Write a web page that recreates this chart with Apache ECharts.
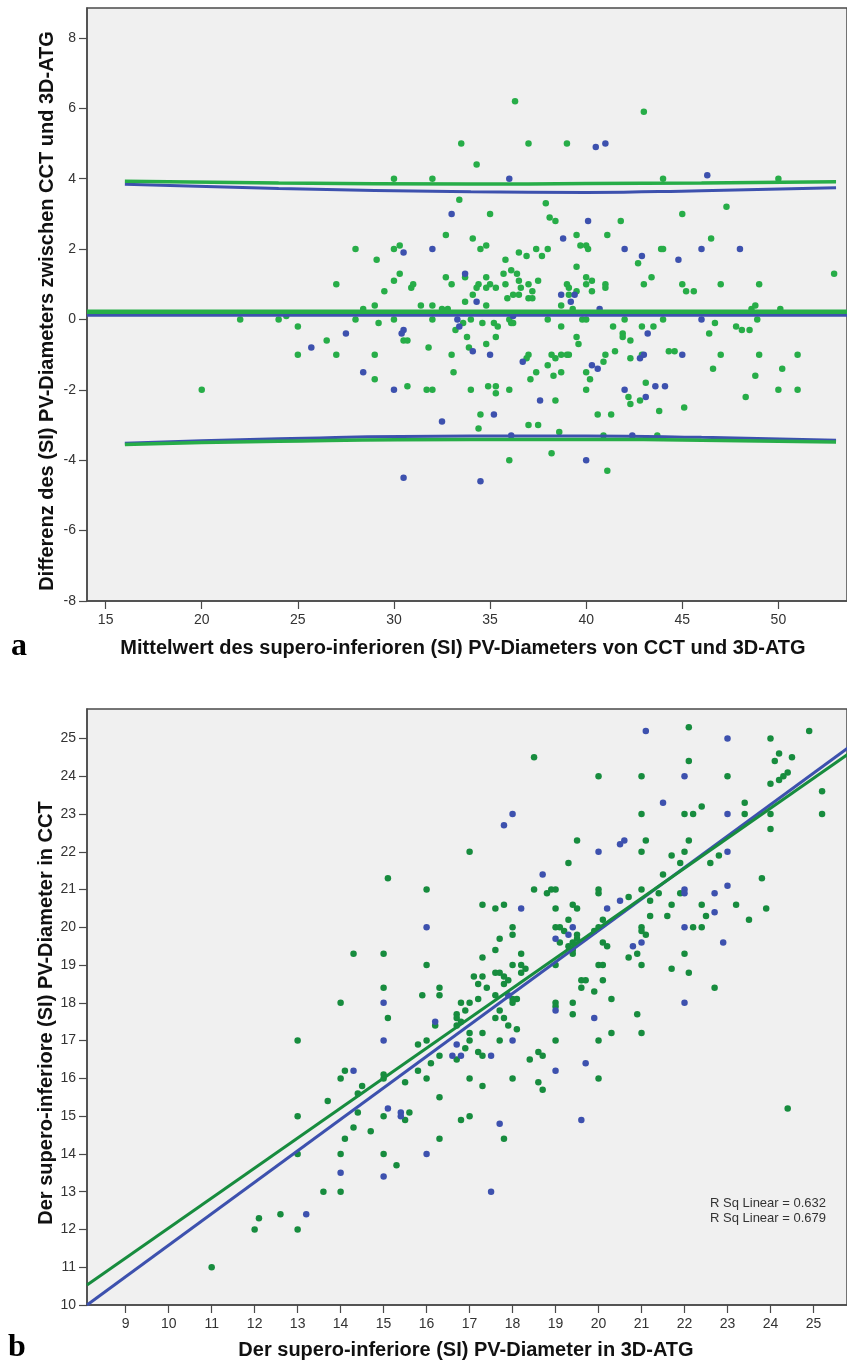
<!DOCTYPE html>
<html>
<head>
<meta charset="utf-8">
<script src="https://cdn.jsdelivr.net/npm/echarts@6/dist/echarts.min.js"></script>
<style>
html, body { margin: 0; padding: 0; background: #fff; }
#chart { width: 847px; height: 1362px; }
</style>
</head>
<body>
<div id="chart"></div>
<script>
// ---- panel a (Bland-Altman) ----
var aTicksX = [15, 20, 25, 30, 35, 40, 45, 50];
var aTicksY = [-8, -6, -4, -2, 0, 2, 4, 6, 8];

var aGreen = [
  [36.3,6.2],[33.5,5.0],[37.0,5.0],[39.0,5.0],[34.3,4.4],[30.0,4.0],[32.0,4.0],[33.4,3.4],[37.9,3.3],[35.0,3.0],
  [38.1,2.9],[38.4,2.8],[39.5,2.4],[32.7,2.4],[34.1,2.3],[28.0,2.0],[30.0,2.0],[30.3,2.1],[34.5,2.0],[34.8,2.1],
  [29.1,1.7],[35.8,1.7],[36.5,1.9],[36.9,1.8],[37.4,2.0],[38.0,2.0],[37.7,1.8],[39.5,1.5],[27.0,1.0],[29.5,0.8],
  [30.0,1.1],[30.3,1.3],[30.9,0.9],[31.0,1.0],[32.7,1.2],[33.0,1.0],[33.7,1.2],[34.1,0.7],[34.3,0.9],[34.4,1.0],
  [34.8,1.2],[34.8,0.9],[35.0,1.0],[35.3,0.9],[35.7,1.3],[35.8,1.0],[35.9,0.6],[36.1,1.4],[36.2,0.7],[36.5,0.7],
  [36.4,1.3],[36.5,1.1],[36.6,0.9],[37.0,1.0],[37.0,0.6],[37.2,0.6],[37.2,0.8],[37.5,1.1],[38.0,0.0],[38.7,0.4],
  [39.0,1.0],[39.1,0.9],[39.5,0.8],[24.0,0.0],[24.4,0.1],[25.0,-0.2],[28.0,0.0],[28.4,0.3],[29.0,0.4],[29.2,-0.1],
  [30.0,0.0],[31.4,0.4],[32.0,0.4],[32.0,0.0],[32.5,0.3],[32.8,0.3],[33.2,-0.3],[33.6,-0.1],[33.7,0.5],[34.0,0.0],
  [34.6,-0.1],[34.8,0.4],[35.2,-0.1],[35.4,-0.2],[36.0,0.0],[36.1,-0.1],[36.2,-0.1],[38.7,-0.2],[39.3,0.3],
  [43.0,5.9],[44.0,4.0],[50.0,4.0],[45.0,3.0],[47.3,3.2],[41.8,2.8],[39.7,2.1],[40.0,2.1],[40.1,2.0],[41.1,2.4],
  [42.7,1.6],[43.9,2.0],[44.0,2.0],[46.5,2.3],[40.0,1.2],[40.3,1.1],[40.0,1.0],[40.3,0.8],[41.0,1.0],[41.0,0.9],
  [39.1,0.7],[43.4,1.2],[43.0,1.0],[45.0,1.0],[45.2,0.8],[45.6,0.8],[47.0,1.0],[49.0,1.0],[52.9,1.3],[48.6,0.3],
  [48.8,0.4],[50.1,0.3],[48.9,0.0],[46.7,-0.1],[47.8,-0.2],[48.1,-0.3],[48.5,-0.3],[44.0,0.0],[42.9,-0.2],[43.5,-0.2],
  [42.0,0.0],[41.4,-0.2],[39.8,0.0],[40.0,0.0],
  [22.0,0.0],[25.0,-1.0],[20.0,-2.0],
  [26.5,-0.6],[27.0,-1.0],[29.0,-1.0],[29.0,-1.7],[30.5,-0.6],[30.7,-0.6],[30.7,-1.9],[31.7,-2.0],[32.0,-2.0],[31.8,-0.8],
  [33.0,-1.0],[33.1,-1.5],[33.8,-0.5],[33.9,-0.8],[34.0,-2.0],[34.4,-3.1],[34.5,-2.7],[34.8,-0.7],[34.9,-1.9],[35.3,-0.5],
  [35.3,-1.9],[35.3,-2.1],[36.0,-2.0],[36.0,-4.0],[36.9,-1.1],[37.0,-1.0],[37.1,-1.7],[37.4,-1.5],[37.0,-3.0],[37.5,-3.0],
  [38.0,-1.3],[38.2,-1.0],[38.4,-1.1],[38.2,-3.8],[38.3,-1.6],[38.4,-2.3],[38.6,-3.2],[38.7,-1.5],[39.0,-1.0],[39.1,-1.0],
  [39.5,-0.5],[39.6,-0.7],[38.7,-1.0],
  [40.0,-1.5],[40.2,-1.7],[40.0,-2.0],[40.6,-2.7],[41.3,-2.7],[40.9,-1.2],[41.0,-1.0],[41.5,-0.9],[41.9,-0.4],[41.9,-0.5],
  [42.2,-2.2],[42.3,-0.6],[42.3,-1.1],[42.3,-2.4],[42.8,-2.3],[42.9,-1.0],[43.1,-1.8],[43.8,-2.6],[44.3,-0.9],[44.6,-0.9],
  [45.1,-2.5],[46.4,-0.4],[46.6,-1.4],[47.0,-1.0],[48.3,-2.2],[48.8,-1.6],[49.0,-1.0],[50.2,-1.4],[50.0,-2.0],[51.0,-1.0],
  [51.0,-2.0],[41.1,-4.3],[40.9,-3.3],[43.7,-3.3]
];

var aBlue = [
  [36.0,4.0],[33.0,3.0],[38.8,2.3],[30.5,1.9],[32.0,2.0],[33.7,1.3],[38.7,0.7],[39.2,0.5],[39.4,0.7],[30.5,-0.3],
  [33.3,0.0],[34.3,0.5],[36.2,0.1],
  [40.5,4.9],[41.0,5.0],[46.3,4.1],[40.1,2.8],[42.0,2.0],[42.9,1.8],[44.8,1.7],[46.0,2.0],[48.0,2.0],[40.7,0.3],[46.0,0.0],
  [25.7,-0.8],[27.5,-0.4],[28.4,-1.5],[30.0,-2.0],[30.4,-0.4],[30.5,-4.5],[32.5,-2.9],[33.4,-0.2],[34.1,-0.9],[34.5,-4.6],
  [35.0,-1.0],[35.2,-2.7],[36.1,-3.3],[36.7,-1.2],[37.6,-2.3],
  [40.3,-1.3],[40.6,-1.4],[42.0,-2.0],[42.8,-1.1],[43.0,-1.0],[43.2,-0.4],[43.1,-2.2],[43.6,-1.9],[44.1,-1.9],[45.0,-1.0],
  [40.0,-4.0],[42.4,-3.3]
];

// mean difference and limits of agreement
var aMeanGreen = [[14.03,0.22],[53.6,0.22]];
var aMeanBlue = [[14.03,0.12],[53.6,0.12]];
var aUpperGreen = [[16,3.93],[24,3.88],[34,3.85],[40,3.86],[46,3.88],[53,3.91]];
var aUpperBlue = [[16,3.84],[24,3.72],[34,3.63],[40,3.61],[46,3.66],[53,3.74]];
var aLowerGreen = [[16,-3.55],[24,-3.46],[34,-3.41],[40,-3.41],[46,-3.43],[53,-3.48]];
var aLowerBlue = [[16,-3.52],[24,-3.39],[34,-3.31],[40,-3.31],[46,-3.35],[53,-3.43]];

// ---- panel b (CCT vs 3D-ATG) ----
var bTicksX = [9,10,11,12,13,14,15,16,17,18,19,20,21,22,23,24,25];
var bTicksY = [10,11,12,13,14,15,16,17,18,19,20,21,22,23,24,25];

var bGreen = [
  [18.5,24.5],[17.0,22.0],[15.1,21.3],[16.0,21.0],[14.3,19.3],[15.0,19.3],[16.0,19.0],[15.0,18.4],[14.0,18.0],[15.1,17.6],
  [15.9,18.2],[16.3,18.4],[16.3,18.2],[16.2,17.4],[18.5,21.0],[18.8,20.9],[18.9,21.0],[19.0,21.0],[19.3,21.7],[19.5,22.3],
  [17.3,20.6],[17.6,20.5],[17.8,20.6],[19.0,20.5],[19.3,20.2],[19.4,20.6],[19.5,20.5],[18.0,20.0],[18.0,19.8],[17.7,19.7],
  [17.6,19.4],[17.3,19.2],[18.2,19.3],[18.0,19.0],[18.2,19.0],[18.3,18.9],[18.2,18.8],[19.0,20.0],[19.1,20.0],[19.2,19.9],
  [19.1,19.6],[19.4,19.3],[19.0,19.0],[17.6,18.8],[17.7,18.8],[17.8,18.7],[17.9,18.6],[17.8,18.5],[17.1,18.7],[17.3,18.7],
  [17.2,18.5],[17.4,18.4],[17.6,18.2],[18.0,18.1],[18.1,18.1],[18.0,18.0],[17.2,18.1],[17.0,18.0],[16.8,18.0],[16.9,17.8],
  [16.7,17.7],[16.7,17.6],[16.8,17.5],[17.7,17.8],[17.6,17.6],[17.8,17.6],[17.9,17.4],[18.1,17.3],[19.0,18.0],[19.0,17.9],
  [19.4,18.0],[19.4,17.7],
  [22.1,25.3],[24.0,25.0],[24.9,25.2],[24.2,24.6],[24.1,24.4],[24.5,24.5],[24.4,24.1],[24.3,24.0],[24.2,23.9],[24.0,23.8],
  [22.1,24.4],[20.0,24.0],[21.0,24.0],[23.0,24.0],[25.2,23.6],[25.2,23.0],[24.0,23.0],[24.0,22.6],[21.0,23.0],[22.0,23.0],
  [22.2,23.0],[22.4,23.2],[23.4,23.3],[23.4,23.0],[21.1,22.3],[21.0,22.0],[22.0,22.0],[22.1,22.3],[21.7,21.9],[21.9,21.7],
  [22.8,21.9],[22.6,21.7],[21.5,21.4],[20.0,21.0],[20.0,20.9],[21.0,21.0],[21.4,20.9],[21.2,20.7],[20.7,20.8],[21.7,20.6],
  [21.9,20.9],[23.8,21.3],[23.2,20.6],[22.4,20.6],[22.5,20.3],[22.2,20.0],[22.4,20.0],[23.9,20.5],[23.5,20.2],[21.6,20.3],
  [21.2,20.3],[21.0,20.0],[21.1,19.8],[21.0,19.9],[20.9,19.3],[20.7,19.2],[21.0,19.0],[22.0,19.3],[22.1,18.8],[21.7,18.9],
  [22.7,18.4],[19.5,19.8],[19.5,19.7],[19.4,19.6],[19.3,19.5],[19.4,19.4],[19.9,19.9],[20.0,20.0],[20.1,20.2],[20.1,19.6],
  [20.2,19.5],[20.0,19.0],[20.1,19.0],[20.1,18.6],[19.6,18.6],[19.7,18.6],[19.6,18.4],[19.9,18.3],[20.3,18.1],[20.9,17.7],
  [20.3,17.2],[21.0,17.2],[20.0,17.0],[20.0,16.0],[24.4,15.2],
  [13.0,17.0],[15.8,16.9],[16.0,17.0],[15.8,16.2],[16.1,16.4],[16.0,16.0],[16.3,16.6],[16.7,17.4],[16.7,16.5],[17.0,17.2],
  [17.0,17.0],[16.9,16.8],[17.3,17.2],[17.2,16.7],[17.3,16.6],[17.7,17.0],[18.0,16.0],[17.3,15.8],[17.0,16.0],[16.8,14.9],
  [17.0,15.0],[17.8,14.4],[16.3,15.5],[16.3,14.4],[18.4,16.5],[18.6,16.7],[18.7,16.6],[18.6,15.9],[18.7,15.7],[19.0,17.0],
  [15.0,16.0],[15.0,16.1],[14.0,16.0],[14.1,16.2],[13.7,15.4],[14.4,15.6],[14.5,15.8],[14.4,15.1],[14.3,14.7],[14.1,14.4],
  [14.7,14.6],[14.0,14.0],[14.0,13.0],[13.6,13.0],[13.0,15.0],[13.0,14.0],[13.0,12.0],[12.6,12.4],[15.0,15.0],[15.0,14.0],
  [15.3,13.7],[15.5,14.9],[15.6,15.1],[15.5,15.9],
  [12.0,12.0],[12.1,12.3],[11.0,11.0]
];

var bBlue = [
  [18.0,23.0],[17.8,22.7],[16.0,20.0],[15.0,18.0],[16.2,17.5],[18.7,21.4],[18.2,20.5],[17.9,18.2],[19.0,19.7],[19.4,20.0],
  [19.3,19.8],[19.0,17.8],
  [21.1,25.2],[23.0,25.0],[22.0,24.0],[21.5,23.3],[23.0,23.0],[20.6,22.3],[20.5,22.2],[20.0,22.0],[23.0,22.0],[20.5,20.7],
  [20.2,20.5],[22.0,21.0],[22.0,20.9],[22.7,20.9],[23.0,21.1],[22.7,20.4],[22.0,20.0],[21.0,19.6],[20.8,19.5],[22.9,19.6],
  [22.0,18.0],[19.9,17.6],[19.7,16.4],[19.6,14.9],
  [15.0,17.0],[16.7,16.9],[16.8,16.6],[16.6,16.6],[17.5,16.6],[18.0,17.0],[17.7,14.8],[17.5,13.0],[16.0,14.0],[19.0,16.2],
  [14.3,16.2],[14.0,13.5],[13.2,12.4],[15.0,13.4],[15.1,15.2],[15.4,15.1],[15.4,15.0]
];

// fit lines (endpoints at the axis edges)
var bFitBlue = [[8.1,10.0],[25.8,24.75]];
var bFitGreen = [[8.1,10.53],[25.8,24.58]];
var bRsq = ['R Sq Linear = 0.632', 'R Sq Linear = 0.679'];

var cGreenA = '#27ad48', cBlue = '#3d51ae', cGreenB = '#178c3e';
var axisColor = '#4a4a4a', labelColor = '#333';
var titleFont = 'bold 20px "Liberation Sans", Arial, sans-serif';

function valAxis(gi, min, max, ticks, isY) {
  return {
    type: 'value', gridIndex: gi, min: min, max: max,
    axisLine: { show: true, onZero: false, lineStyle: { color: axisColor, width: 1.5 } },
    axisTick: { show: true, length: 8, customValues: ticks, lineStyle: { color: axisColor, width: 1.2 } },
    axisLabel: { customValues: ticks, color: labelColor, fontSize: 14, fontFamily: '"Liberation Sans", Arial, sans-serif', margin: isY ? 11 : 12 },
    splitLine: { show: false }
  };
}

function dots(name, xi, data, color) {
  return { name: name, type: 'scatter', xAxisIndex: xi, yAxisIndex: xi, data: data,
    symbolSize: 6.5, itemStyle: { color: color, opacity: 1 }, z: 2, silent: true };
}

function line(xi, data, color, w, z) {
  return { type: 'line', xAxisIndex: xi, yAxisIndex: xi, data: data, smooth: true, symbol: 'none',
    lineStyle: { color: color, width: w }, z: z, silent: true };
}

function txt(s, x, y, font, rot, color, align) {
  return { type: 'text', x: x, y: y, rotation: rot || 0, z: 10,
    style: { text: s, font: font, fill: color || '#111', align: align || 'center', verticalAlign: 'middle',
             textAlign: align || 'center', textVerticalAlign: 'middle' } };
}

var chart = echarts.init(document.getElementById('chart'), null, { renderer: 'canvas' });
chart.setOption({
  animation: false,
  backgroundColor: '#fff',
  grid: [
    { left: 87, top: 8, width: 762, height: 593, show: true, backgroundColor: '#f0f0f0', borderColor: axisColor, borderWidth: 1.5 },
    { left: 87, top: 709, width: 762, height: 596, show: true, backgroundColor: '#f0f0f0', borderColor: axisColor, borderWidth: 1.5 }
  ],
  xAxis: [valAxis(0, 14.03, 53.57, aTicksX, false), valAxis(1, 8.1, 25.78, bTicksX, false)],
  yAxis: [valAxis(0, -8, 8.85, aTicksY, true), valAxis(1, 10, 25.78, bTicksY, true)],
  series: [
    dots('aGreen', 0, aGreen, cGreenA),
    dots('aBlue', 0, aBlue, cBlue),
    line(0, aMeanBlue, cBlue, 3, 3),
    line(0, aMeanGreen, cGreenA, 4.5, 4),
    line(0, aUpperBlue, cBlue, 3, 3),
    line(0, aUpperGreen, cGreenA, 3.5, 4),
    line(0, aLowerBlue, cBlue, 3, 3),
    line(0, aLowerGreen, cGreenA, 3.5, 4),
    dots('bGreen', 1, bGreen, cGreenB),
    dots('bBlue', 1, bBlue, cBlue),
    line(1, bFitBlue, cBlue, 3, 3),
    line(1, bFitGreen, cGreenB, 3, 4)
  ],
  graphic: [
    txt('Differenz des (SI) PV-Diameters zwischen CCT und 3D-ATG', 47, 311, titleFont, Math.PI / 2),
    txt('Mittelwert des supero-inferioren (SI) PV-Diameters von CCT und 3D-ATG', 463, 648, titleFont, 0),
    txt('Der supero-inferiore (SI) PV-Diameter in CCT', 46, 1013, titleFont, Math.PI / 2),
    txt('Der supero-inferiore (SI) PV-Diameter in 3D-ATG', 466, 1350, titleFont, 0),
    txt('a', 19, 647, 'bold 32px "Liberation Serif", "Times New Roman", serif', 0, '#000'),
    txt('b', 17, 1348, 'bold 32px "Liberation Serif", "Times New Roman", serif', 0, '#000'),
    txt(bRsq[0], 826, 1203, '13px "Liberation Sans", Arial, sans-serif', 0, '#333', 'right'),
    txt(bRsq[1], 826, 1218, '13px "Liberation Sans", Arial, sans-serif', 0, '#333', 'right')
  ]
});
</script>
</body>
</html>
